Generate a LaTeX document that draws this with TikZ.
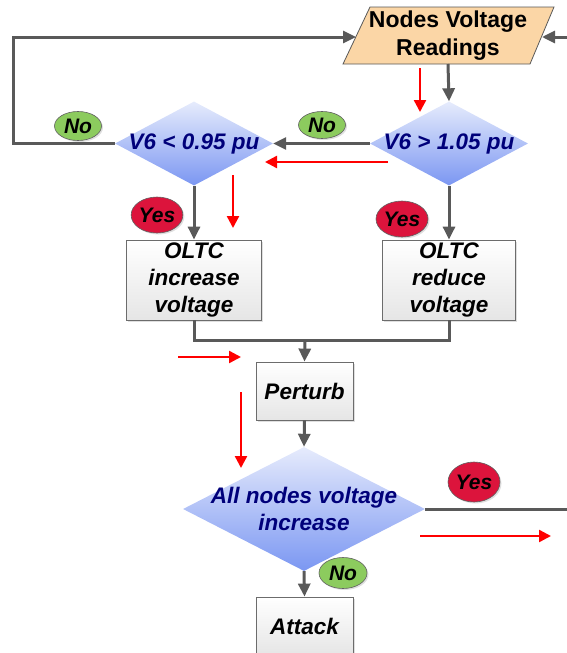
\documentclass[tikz,border=0pt]{standalone}
\usepackage{fontspec}
\setmainfont{Liberation Sans}
\usetikzlibrary{shapes.geometric,arrows.meta,shadows}
\definecolor{lnk}{HTML}{595959}
\definecolor{navytext}{HTML}{00007A}
\definecolor{yesred}{HTML}{DC143C}
\definecolor{nogreen}{HTML}{8CCB5E}
\definecolor{para}{HTML}{FBD6A6}
\definecolor{dtop}{HTML}{E6EBFC}
\definecolor{dbot}{HTML}{7B97F2}
\begin{document}
\begin{tikzpicture}[x=1pt,y=-1pt,
  conn/.style={draw=lnk, line width=3pt, -{Triangle[width=12pt,length=13pt]}},
  plain/.style={draw=lnk, line width=3pt},
  redarr/.style={draw=red, line width=2.4pt, -{Triangle[width=12pt,length=12pt]}},
  dia/.style={diamond, minimum width=158pt, minimum height=84pt, inner sep=0pt, top color=dtop, bottom color=dbot, draw=none},
  diatext/.style={font=\fontsize{22.5}{27}\selectfont\bfseries\itshape, text=navytext, align=center, inner sep=0pt},
  box/.style={rectangle, draw=gray!85!black, line width=0.8pt, top color=white, bottom color=gray!20, align=center, inner sep=0pt, font=\fontsize{22.5}{27}\selectfont\bfseries\itshape, drop shadow={opacity=0.25,shadow xshift=1.5pt,shadow yshift=-1.5pt}},
  lab/.style={ellipse, draw=gray!75!black, line width=0.6pt, inner sep=0pt, font=\fontsize{21}{24}\selectfont\bfseries\itshape, drop shadow={opacity=0.25,shadow xshift=1.5pt,shadow yshift=-1.5pt}},
  yeslab/.style={lab, fill=yesred},
  nolab/.style={lab, fill=nogreen}
]
\clip (0,0) rectangle (567,653);
\path[use as bounding box] (0,0) rectangle (567,653);

% Nodes Voltage Readings (parallelogram)
\fill[para, draw=gray!70!black, line width=0.8pt] (370,7) -- (554,7) -- (530,64) -- (343,64) -- cycle;
\node[font=\fontsize{23}{28}\selectfont\bfseries, align=center, inner sep=0pt] (nvr) at (448,36) {Nodes Voltage\\Readings};
\coordinate (nvrL) at (356,37);
\coordinate (nvrR) at (542,37);
\coordinate (nvrB) at (448,64);
\coordinate (loopL) at (13,37);
\coordinate (rin) at (570,37);

% decisions
\node[dia] (d1) at (194,143.5) {};
\node[diatext] (t1) at (d1) {V6 < 0.95 pu};
\node[dia] (d2) at (449,143.5) {};
\node[diatext] (t2) at (d2) {V6 > 1.05 pu};

% OLTC boxes
\node[box, minimum width=135pt, minimum height=80pt] (b1) at (194,280) {OLTC\\increase\\voltage};
\node[box, minimum width=133pt, minimum height=80pt] (b2) at (449,280) {OLTC\\reduce\\voltage};

\node[box, minimum width=97pt, minimum height=58pt] (pert) at (304.5,391) {Perturb};
\node[dia, minimum width=242pt, minimum height=124pt] (d3) at (304,509) {};
\node[diatext] (t3) at (d3) {All nodes voltage\\increase};
\node[box, minimum width=97pt, minimum height=58pt] (att) at (304.5,626) {Attack};

\coordinate (m) at (305,340);
\coordinate (yout) at (570,509);

% connectors
\draw[conn] (d1.west) -- (d1.west -| loopL) -- (loopL) -- (nvrL);
\draw[conn] (rin) -- (nvrR);
\draw[conn] (nvrB) -- (d2.north);
\draw[conn] (d2.west) -- (d1.east);
\draw[conn] (d1.south) -- (b1.north);
\draw[conn] (d2.south) -- (b2.north);
\draw[plain] (b1.south) -- (b1.south |- m) -- (b2.south |- m) -- (b2.south);
\draw[conn] (m) -- (pert.north);
\draw[conn] (pert.south) -- (d3.north);
\draw[plain] (d3.east) -- (yout);
\draw[conn] (d3.south) -- (att.north);

% labels
\node[nolab, minimum width=47pt, minimum height=29pt] (no1) at (78,126) {No};
\node[nolab, minimum width=47pt, minimum height=27pt] (no2) at (322,125) {No};
\node[yeslab, minimum width=51pt, minimum height=36pt] (yes1) at (157,215) {Yes};
\node[yeslab, minimum width=52pt, minimum height=36pt] (yes2) at (402,219) {Yes};
\node[yeslab, minimum width=52pt, minimum height=40pt] (yes3) at (474,482) {Yes};
\node[nolab, minimum width=48pt, minimum height=31pt] (no3) at (343,573) {No};

% red indicator arrows
\coordinate (ra1) at (420,68);  \coordinate (rb1) at (420,112);
\coordinate (ra2) at (388,162); \coordinate (rb2) at (265,162);
\coordinate (ra3) at (233,175); \coordinate (rb3) at (233,228);
\coordinate (ra4) at (178,357); \coordinate (rb4) at (241,357);
\coordinate (ra5) at (241,392); \coordinate (rb5) at (241,468);
\coordinate (ra6) at (420,536); \coordinate (rb6) at (551,536);
\draw[redarr] (ra1) -- (rb1);
\draw[redarr] (ra2) -- (rb2);
\draw[redarr] (ra3) -- (rb3);
\draw[redarr] (ra4) -- (rb4);
\draw[redarr] (ra5) -- (rb5);
\draw[redarr] (ra6) -- (rb6);
\end{tikzpicture}
\end{document}
